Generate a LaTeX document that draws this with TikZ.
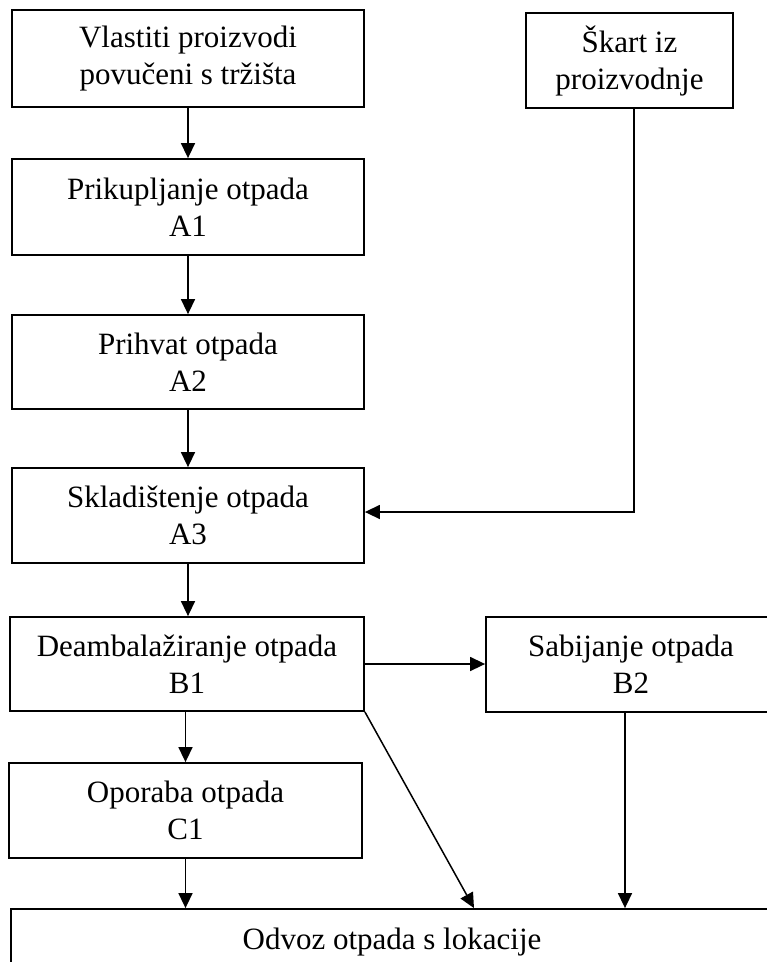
\documentclass[tikz,border=0pt]{standalone}
\usepackage{fontspec}
\setmainfont{Liberation Serif}
\usetikzlibrary{arrows.meta}
\begin{document}
\begin{tikzpicture}[x=1pt,y=-1pt,
  box/.style={draw, line width=1.8pt, inner sep=0pt, align=center, font=\fontsize{31}{37}\selectfont},
  arr/.style={line width=1.5pt, -{Triangle[length=15pt,width=14pt]}}]
\useasboundingbox (0,0) rectangle (767,962);
\clip (0,0) rectangle (767,962);
\node[box, minimum width=352pt, minimum height=97pt] (v) at (188,58.5) {Vlastiti proizvodi\\povučeni s tržišta};
\node[box, minimum width=207pt, minimum height=95pt] (s) at (629.5,60.5) {Škart iz\\proizvodnje};
\node[box, minimum width=352pt, minimum height=96pt] (a1) at (188,207) {Prikupljanje otpada\\A1};
\node[box, minimum width=352pt, minimum height=94pt] (a2) at (188,362) {Prihvat otpada\\A2};
\node[box, minimum width=352pt, minimum height=95pt] (a3) at (188,515.5) {Skladištenje otpada\\A3};
\node[box, minimum width=354pt, minimum height=94pt] (b1) at (187,664) {Deambalažiranje otpada\\B1};
\node[box, minimum width=290pt, minimum height=95pt] (b2) at (631,664.5) {Sabijanje otpada\\B2};
\node[box, minimum width=353pt, minimum height=95pt] (c1) at (185.5,810.5) {Oporaba otpada\\C1};
\node[box, minimum width=762pt, minimum height=66pt] (od) at (392,942) {Odvoz otpada s lokacije};
\coordinate (d) at (474,0);
\draw[arr] (v.south) -- (a1.north);
\draw[arr] (a1.south) -- (a2.north);
\draw[arr] (a2.south) -- (a3.north);
\draw[arr] (a3.south) -- (a3.south |- b1.north);
\draw[arr] ([xshift=4.5pt]s.south) |- ([yshift=3.5pt]a3.east);
\draw[arr] (b1.east) -- (b1.east -| b2.west);
\draw[arr] (c1.north |- b1.south) -- (c1.north);
\draw[arr] (c1.south) -- (c1.south |- od.north);
\draw[arr] (b1.south east) -- (od.north -| d);
\draw[arr] ([xshift=-6pt]b2.south) -- ([xshift=-6pt]b2.south |- od.north);
\end{tikzpicture}
\end{document}
